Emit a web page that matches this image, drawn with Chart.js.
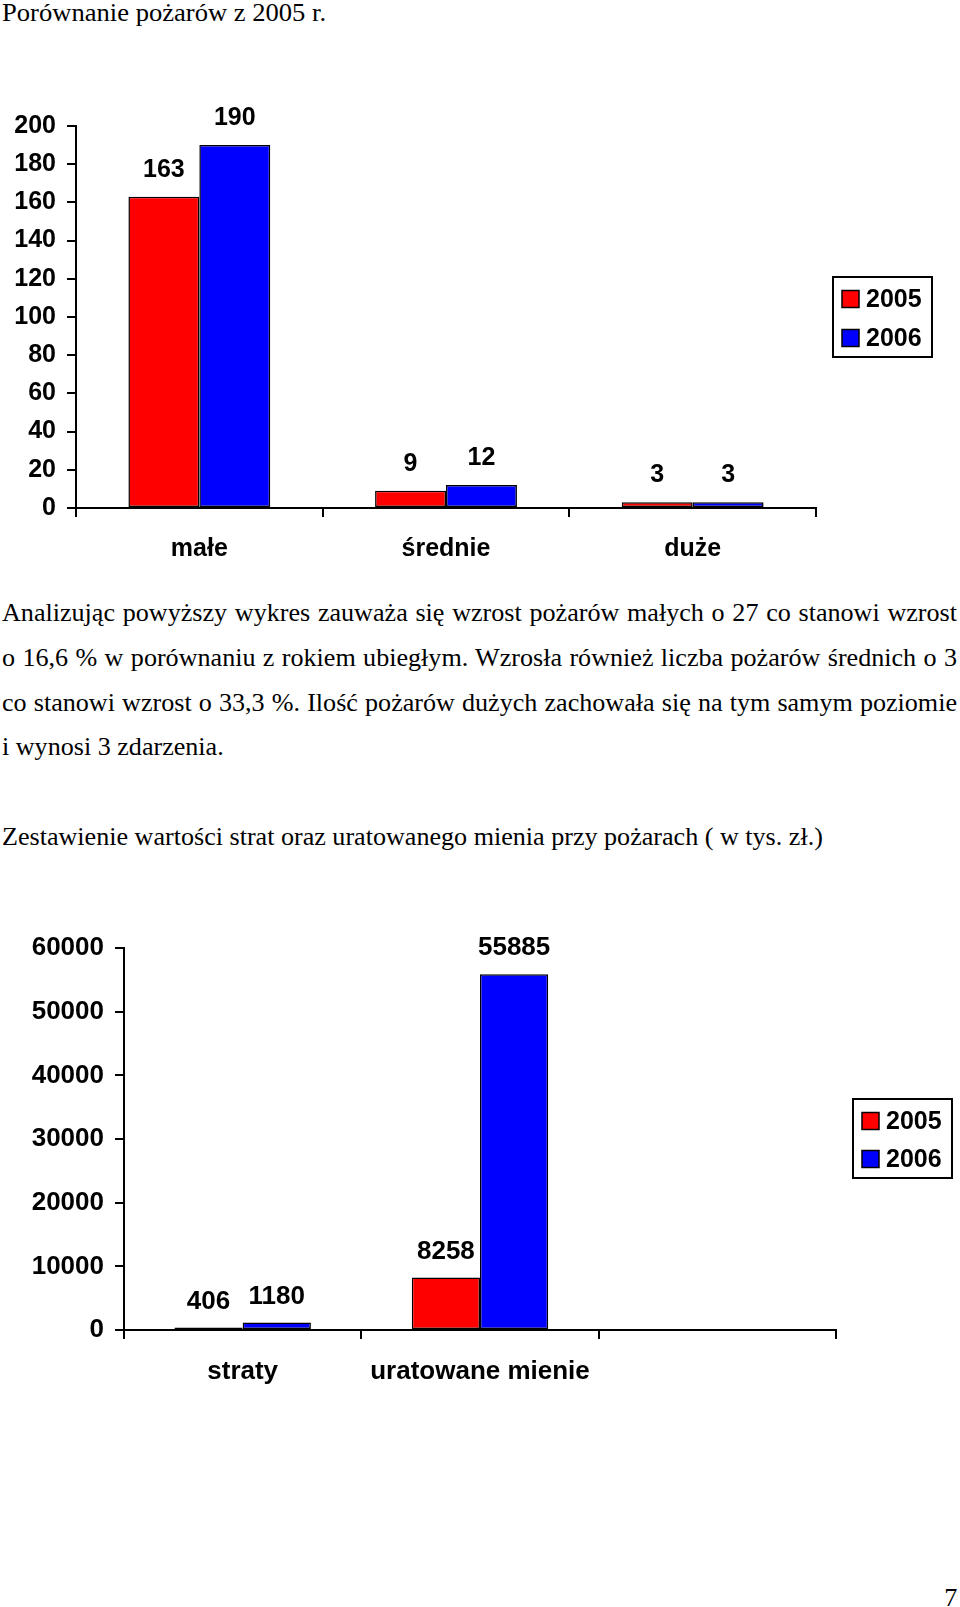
<!DOCTYPE html>
<html lang="pl">
<head>
<meta charset="utf-8">
<script src="https://cdn.jsdelivr.net/npm/chart.js@4/dist/chart.umd.min.js"></script>
<style>
  html, body { margin: 0; padding: 0; background: #fff; }
  body { width: 960px; height: 1607px; position: relative; overflow: hidden; }
  .t { position: absolute; font-family: "Liberation Serif", "Times New Roman", serif; font-size: 24.5px; line-height: 24px; color: #000; white-space: nowrap; transform: scaleX(1.065); transform-origin: 0 0; }
  .r { transform-origin: 100% 0; }
  canvas { position: absolute; left: 0; }
</style>
</head>
<body>
<div class="t" style="left:2px; top:1px; transform: scaleX(1.085);">Porównanie pożarów z 2005 r.</div>

<canvas id="c1" width="960" height="490" style="top:90px"></canvas>

<div class="t j" style="left:2px; top:601px;">Analizując powyższy wykres zauważa się wzrost pożarów małych o 27 co stanowi wzrost</div>
<div class="t j" style="left:2px; top:646px;">o 16,6 % w porównaniu z rokiem ubiegłym. Wzrosła również liczba pożarów średnich o 3</div>
<div class="t j" style="left:2px; top:691px;">co stanowi wzrost o 33,3 %. Ilość pożarów dużych zachowała się na tym samym poziomie</div>
<div class="t" style="left:2px; top:735px;">i wynosi 3 zdarzenia.</div>
<div class="t" style="left:2px; top:825px;">Zestawienie wartości strat oraz uratowanego mienia przy pożarach ( w tys. zł.)</div>

<canvas id="c2" width="960" height="560" style="top:880px"></canvas>

<div class="t r" style="right:3px; top:1586px;">7</div>

<script>
// ---- justify the paragraph lines to the page width without wrapping ----
(function () {
  const sx = 1.065;
  const target = 955 / sx;
  document.querySelectorAll('.j').forEach(el => {
    const w = el.getBoundingClientRect().width / sx;
    const spaces = (el.textContent.match(/ /g) || []).length;
    if (spaces > 0) el.style.wordSpacing = ((target - w) / spaces) + 'px';
  });
})();

// ---- data ----
const seriesLabels = ['2005', '2006'];
const seriesColors = ['#FF0000', '#0000FF'];

const categories1 = ['małe', 'średnie', 'duże'];
const fires2005 = [163, 9, 3];
const fires2006 = [190, 12, 3];

const categories2 = ['straty', 'uratowane mienie', ''];
const losses2005 = [406, 8258, null];
const losses2006 = [1180, 55885, null];

const yMax1 = 200, yStep1 = 20;
const yMax2 = 60000, yStep2 = 10000;

// ---- plugins ----
const valueLabels = {
  id: 'valueLabels',
  afterDatasetsDraw(chart, args, opts) {
    const ctx = chart.ctx;
    ctx.save();
    ctx.font = 'bold ' + opts.size + 'px "Liberation Sans", Arial, sans-serif';
    ctx.fillStyle = '#000';
    ctx.textAlign = 'center';
    ctx.textBaseline = 'middle';
    chart.data.datasets.forEach((ds, i) => {
      const meta = chart.getDatasetMeta(i);
      meta.data.forEach((el, j) => {
        const v = ds.data[j];
        if (v === null || v === undefined) return;
        ctx.fillText(String(v), el.x, el.y - opts.gap);
      });
    });
    ctx.restore();
  }
};

const boxLegend = {
  id: 'boxLegend',
  afterDraw(chart, args, opts) {
    const ctx = chart.ctx;
    ctx.save();
    ctx.lineWidth = 2;
    ctx.strokeStyle = '#000';
    ctx.fillStyle = '#fff';
    ctx.fillRect(opts.x, opts.y, opts.w, opts.h);
    ctx.strokeRect(opts.x, opts.y, opts.w, opts.h);
    ctx.font = 'bold ' + opts.size + 'px "Liberation Sans", Arial, sans-serif';
    ctx.textAlign = 'left';
    ctx.textBaseline = 'middle';
    chart.data.datasets.forEach((ds, i) => {
      const cy = opts.rows[i];
      ctx.fillStyle = ds.backgroundColor;
      ctx.fillRect(opts.sx, cy - opts.sw / 2, opts.sw, opts.sw);
      ctx.lineWidth = 1.5;
      ctx.strokeRect(opts.sx, cy - opts.sw / 2, opts.sw, opts.sw);
      ctx.fillStyle = '#000';
      ctx.fillText(ds.label, opts.tx, cy + 1);
    });
    ctx.restore();
  }
};

function makeChart(id, cats, d1, d2, cfg) {
  const font = { family: '"Liberation Sans", Arial, sans-serif', size: cfg.size, weight: 'bold' };
  return new Chart(document.getElementById(id), {
    type: 'bar',
    data: {
      labels: cats,
      datasets: [
        { label: seriesLabels[0], data: d1, backgroundColor: seriesColors[0], borderColor: '#000', borderWidth: 1.5, borderSkipped: false },
        { label: seriesLabels[1], data: d2, backgroundColor: seriesColors[1], borderColor: '#000', borderWidth: 1.5, borderSkipped: false }
      ]
    },
    options: {
      responsive: false,
      animation: false,
      events: [],
      layout: { padding: cfg.padding },
      datasets: { bar: { categoryPercentage: 0.575, barPercentage: 1.0 } },
      plugins: {
        legend: { display: false },
        tooltip: { enabled: false },
        title: { display: false },
        valueLabels: { size: cfg.size, gap: cfg.gap },
        boxLegend: cfg.legend
      },
      scales: {
        x: {
          grid: { offset: true, drawOnChartArea: false, drawTicks: true, tickLength: 9, color: '#000', lineWidth: 2 },
          border: { display: true, color: '#000', width: 2 },
          ticks: { font: font, color: '#000', padding: cfg.xPad, maxRotation: 0, autoSkip: false },
          afterFit(scale) { scale.height = 60; }
        },
        y: {
          min: 0, max: cfg.max,
          grid: { drawOnChartArea: false, drawTicks: true, tickLength: 9, color: '#000', lineWidth: 2 },
          border: { display: true, color: '#000', width: 2 },
          ticks: { stepSize: cfg.step, font: font, color: '#000', padding: 11, callback: v => String(v) },
          afterFit(scale) { scale.width = cfg.yWidth; }
        }
      }
    },
    plugins: [valueLabels, boxLegend]
  });
}

makeChart('c1', categories1, fires2005, fires2006, {
  size: 25, gap: 27, max: yMax1, step: yStep1, xPad: 17, yWidth: 76,
  padding: { top: 36, right: 144, bottom: 12, left: 0 },
  legend: { x: 833, y: 187, w: 99, h: 80, sx: 842, sw: 17, tx: 866, rows: [209, 248], size: 25 }
});

makeChart('c2', categories2, losses2005, losses2006, {
  size: 26, gap: 26, max: yMax2, step: yStep2, xPad: 17, yWidth: 124,
  padding: { top: 68, right: 124, bottom: 50, left: 0 },
  legend: { x: 853, y: 219, w: 99, h: 79, sx: 862, sw: 17, tx: 886, rows: [241, 279], size: 25 }
});
</script>
</body>
</html>
